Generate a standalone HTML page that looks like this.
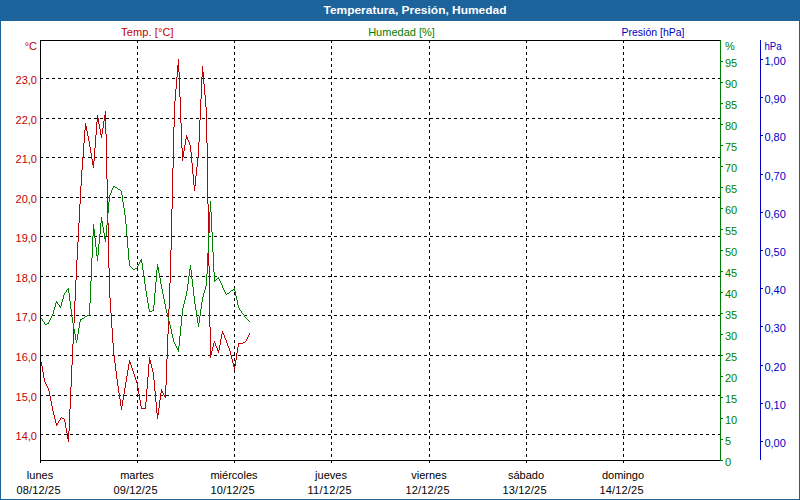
<!DOCTYPE html>
<html><head><meta charset="utf-8"><title>Temperatura, Presión, Humedad</title>
<style>
html,body{margin:0;padding:0;background:#fff;}
body{width:800px;height:500px;overflow:hidden;position:relative;font-family:"Liberation Sans",sans-serif;}
svg{position:absolute;left:0;top:0;display:block;}
text{font-family:"Liberation Sans",sans-serif;font-size:11px;}
</style></head><body>
<svg width="800" height="500" viewBox="0 0 800 500">

<defs><pattern id="dth" width="4" height="4" patternUnits="userSpaceOnUse"><rect width="4" height="4" fill="#1d639b"/><rect x="1" y="1" width="1" height="1" fill="#2065b0"/><rect x="3" y="3" width="1" height="1" fill="#2065b0"/></pattern></defs>
<rect x="0" y="0" width="800" height="500" fill="#1d639b"/>
<rect x="0" y="0" width="800" height="20" fill="url(#dth)" shape-rendering="crispEdges"/>
<rect x="1" y="21" width="798" height="478" fill="#ffffff"/>
<text x="415" y="14" text-anchor="middle" fill="#ffffff" style="font-weight:bold;font-size:11.5px" textLength="183" lengthAdjust="spacingAndGlyphs">Temperatura, Presión, Humedad</text>
<g stroke="#000" stroke-width="1" stroke-dasharray="3 3" shape-rendering="crispEdges" fill="none">
<line x1="40" y1="78.5" x2="720" y2="78.5"/>
<line x1="40" y1="118.5" x2="720" y2="118.5"/>
<line x1="40" y1="157.5" x2="720" y2="157.5"/>
<line x1="40" y1="197.5" x2="720" y2="197.5"/>
<line x1="40" y1="236.5" x2="720" y2="236.5"/>
<line x1="40" y1="276.5" x2="720" y2="276.5"/>
<line x1="40" y1="315.5" x2="720" y2="315.5"/>
<line x1="40" y1="355.5" x2="720" y2="355.5"/>
<line x1="40" y1="395.5" x2="720" y2="395.5"/>
<line x1="40" y1="434.5" x2="720" y2="434.5"/>
<line x1="137.5" y1="40" x2="137.5" y2="460"/>
<line x1="234.5" y1="40" x2="234.5" y2="460"/>
<line x1="331.5" y1="40" x2="331.5" y2="460"/>
<line x1="429.5" y1="40" x2="429.5" y2="460"/>
<line x1="526.5" y1="40" x2="526.5" y2="460"/>
<line x1="623.5" y1="40" x2="623.5" y2="460"/>
</g>
<g shape-rendering="crispEdges" stroke="none">
<path fill="#c00000" d="M41 362h1v4h-1zM42 366h1v6h-1zM43 372h1v6h-1zM44 378h1v4h-1zM45 382h1v2h-1zM46 384h1v2h-1zM47 386h1v2h-1zM48 388h1v3h-1zM49 391h1v5h-1zM50 396h1v5h-1zM51 401h1v5h-1zM52 406h1v5h-1zM53 411h1v4h-1zM54 415h1v4h-1zM55 419h1v4h-1zM56 423h1v3h-1zM57 423h1v2h-1zM58 421h1v2h-1zM59 420h1v1h-1zM60 418h1v2h-1zM61 417h1v1h-1zM62 418h1v1h-1zM63 418h1v1h-1zM64 419h1v3h-1zM65 422h1v6h-1zM66 428h1v5h-1zM67 433h1v6h-1zM68 431h1v11h-1zM69 409h1v22h-1zM70 387h1v22h-1zM71 365h1v22h-1zM72 344h1v21h-1zM73 323h1v21h-1zM74 301h1v22h-1zM75 280h1v21h-1zM76 260h1v20h-1zM77 242h1v18h-1zM78 223h1v19h-1zM79 204h1v19h-1zM80 186h1v18h-1zM81 170h1v16h-1zM82 157h1v13h-1zM83 143h1v14h-1zM84 130h1v13h-1zM85 123h1v7h-1zM86 126h1v5h-1zM87 131h1v5h-1zM88 136h1v5h-1zM89 141h1v6h-1zM90 147h1v6h-1zM91 153h1v6h-1zM92 159h1v6h-1zM93 161h1v7h-1zM94 148h1v13h-1zM95 135h1v13h-1zM96 122h1v13h-1zM97 115h1v7h-1zM98 118h1v6h-1zM99 124h1v5h-1zM100 129h1v6h-1zM101 134h1v4h-1zM102 128h1v6h-1zM103 121h1v7h-1zM104 115h1v6h-1zM105 111h1v23h-1zM106 134h1v45h-1zM107 179h1v44h-1zM108 223h1v45h-1zM109 268h1v30h-1zM110 298h1v15h-1zM111 313h1v15h-1zM112 328h1v15h-1zM113 343h1v12h-1zM114 355h1v8h-1zM115 363h1v8h-1zM116 371h1v8h-1zM117 379h1v7h-1zM118 386h1v7h-1zM119 393h1v6h-1zM120 399h1v7h-1zM121 406h1v4h-1zM122 400h1v6h-1zM123 394h1v6h-1zM124 388h1v6h-1zM125 382h1v6h-1zM126 376h1v6h-1zM127 370h1v6h-1zM128 364h1v6h-1zM129 360h1v4h-1zM130 362h1v3h-1zM131 365h1v3h-1zM132 368h1v3h-1zM133 371h1v3h-1zM134 374h1v3h-1zM135 377h1v3h-1zM136 380h1v3h-1zM137 383h1v5h-1zM138 388h1v6h-1zM139 394h1v6h-1zM140 400h1v6h-1zM141 406h1v3h-1zM142 408h1v1h-1zM143 408h1v1h-1zM144 408h1v1h-1zM145 402h1v7h-1zM146 389h1v13h-1zM147 377h1v12h-1zM148 364h1v13h-1zM149 357h1v7h-1zM150 360h1v4h-1zM151 364h1v4h-1zM152 368h1v4h-1zM153 372h1v8h-1zM154 380h1v11h-1zM155 391h1v11h-1zM156 402h1v11h-1zM157 413h1v6h-1zM158 408h1v7h-1zM159 400h1v8h-1zM160 393h1v7h-1zM161 389h1v4h-1zM162 391h1v2h-1zM163 393h1v2h-1zM164 395h1v2h-1zM165 385h1v13h-1zM166 359h1v26h-1zM167 334h1v25h-1zM168 309h1v25h-1zM169 283h1v26h-1zM170 250h1v33h-1zM171 209h1v41h-1zM172 168h1v41h-1zM173 127h1v41h-1zM174 101h1v26h-1zM175 89h1v12h-1zM176 77h1v12h-1zM177 65h1v12h-1zM178 59h1v13h-1zM179 72h1v25h-1zM180 97h1v26h-1zM181 123h1v25h-1zM182 148h1v13h-1zM183 151h1v6h-1zM184 145h1v6h-1zM185 139h1v6h-1zM186 135h1v4h-1zM187 137h1v3h-1zM188 140h1v2h-1zM189 142h1v3h-1zM190 145h1v7h-1zM191 152h1v11h-1zM192 163h1v11h-1zM193 174h1v11h-1zM194 185h1v6h-1zM195 176h1v10h-1zM196 167h1v9h-1zM197 157h1v10h-1zM198 142h1v15h-1zM199 120h1v22h-1zM200 99h1v21h-1zM201 77h1v22h-1zM202 66h1v11h-1zM203 72h1v12h-1zM204 84h1v11h-1zM205 95h1v12h-1zM206 107h1v36h-1zM207 143h1v61h-1zM208 204h1v62h-1zM209 266h1v61h-1zM210 327h1v31h-1zM211 351h1v4h-1zM212 347h1v4h-1zM213 343h1v4h-1zM214 341h1v2h-1zM215 343h1v3h-1zM216 346h1v2h-1zM217 348h1v3h-1zM218 350h1v3h-1zM219 345h1v5h-1zM220 339h1v6h-1zM221 334h1v5h-1zM222 331h1v3h-1zM223 333h1v2h-1zM224 335h1v3h-1zM225 338h1v2h-1zM226 340h1v3h-1zM227 343h1v3h-1zM228 346h1v2h-1zM229 348h1v3h-1zM230 351h1v4h-1zM231 355h1v4h-1zM232 359h1v4h-1zM233 363h1v4h-1zM234 366h1v4h-1zM235 360h1v6h-1zM236 353h1v7h-1zM237 347h1v6h-1zM238 343h1v4h-1zM239 343h1v1h-1zM240 343h1v1h-1zM241 343h1v1h-1zM242 343h1v1h-1zM243 342h1v1h-1zM244 342h1v1h-1zM245 341h1v1h-1zM246 339h1v2h-1zM247 337h1v2h-1zM248 335h1v2h-1zM249 333h1v2h-1z"/>
<path fill="#008000" d="M41 318h1v1h-1zM42 319h1v2h-1zM43 321h1v1h-1zM44 322h1v2h-1zM45 324h1v1h-1zM46 324h1v1h-1zM47 323h1v1h-1zM48 322h1v2h-1zM49 320h1v2h-1zM50 318h1v2h-1zM51 316h1v2h-1zM52 314h1v2h-1zM53 310h1v4h-1zM54 307h1v3h-1zM55 303h1v4h-1zM56 301h1v2h-1zM57 302h1v2h-1zM58 304h1v1h-1zM59 305h1v2h-1zM60 306h1v2h-1zM61 302h1v4h-1zM62 299h1v3h-1zM63 295h1v4h-1zM64 293h1v2h-1zM65 292h1v1h-1zM66 290h1v2h-1zM67 289h1v1h-1zM68 288h1v5h-1zM69 293h1v8h-1zM70 301h1v8h-1zM71 309h1v8h-1zM72 317h1v6h-1zM73 323h1v6h-1zM74 329h1v5h-1zM75 334h1v6h-1zM76 340h1v3h-1zM77 334h1v6h-1zM78 328h1v6h-1zM79 322h1v6h-1zM80 319h1v3h-1zM81 319h1v1h-1zM82 318h1v1h-1zM83 318h1v1h-1zM84 317h1v1h-1zM85 316h1v1h-1zM86 316h1v1h-1zM87 315h1v1h-1zM88 315h1v1h-1zM89 303h1v12h-1zM90 281h1v22h-1zM91 258h1v23h-1zM92 236h1v22h-1zM93 224h1v12h-1zM94 229h1v9h-1zM95 238h1v9h-1zM96 247h1v9h-1zM97 255h1v6h-1zM98 244h1v11h-1zM99 234h1v10h-1zM100 223h1v11h-1zM101 217h1v6h-1zM102 221h1v6h-1zM103 227h1v6h-1zM104 233h1v6h-1zM105 236h1v6h-1zM106 225h1v11h-1zM107 213h1v12h-1zM108 202h1v11h-1zM109 195h1v7h-1zM110 193h1v2h-1zM111 190h1v3h-1zM112 188h1v2h-1zM113 186h1v2h-1zM114 186h1v1h-1zM115 187h1v1h-1zM116 187h1v1h-1zM117 188h1v1h-1zM118 189h1v1h-1zM119 189h1v1h-1zM120 190h1v1h-1zM121 191h1v4h-1zM122 195h1v7h-1zM123 202h1v6h-1zM124 208h1v7h-1zM125 215h1v9h-1zM126 224h1v12h-1zM127 236h1v12h-1zM128 248h1v12h-1zM129 260h1v6h-1zM130 266h1v1h-1zM131 267h1v1h-1zM132 268h1v1h-1zM133 269h1v1h-1zM134 269h1v1h-1zM135 268h1v1h-1zM136 268h1v1h-1zM137 266h1v2h-1zM138 264h1v2h-1zM139 262h1v2h-1zM140 260h1v2h-1zM141 259h1v4h-1zM142 263h1v7h-1zM143 270h1v7h-1zM144 277h1v7h-1zM145 284h1v7h-1zM146 291h1v6h-1zM147 297h1v6h-1zM148 303h1v6h-1zM149 309h1v3h-1zM150 311h1v1h-1zM151 311h1v1h-1zM152 310h1v1h-1zM153 305h1v6h-1zM154 293h1v12h-1zM155 282h1v11h-1zM156 270h1v12h-1zM157 264h1v6h-1zM158 267h1v6h-1zM159 273h1v5h-1zM160 278h1v6h-1zM161 284h1v5h-1zM162 289h1v5h-1zM163 294h1v5h-1zM164 299h1v5h-1zM165 304h1v5h-1zM166 309h1v4h-1zM167 313h1v4h-1zM168 317h1v4h-1zM169 321h1v4h-1zM170 325h1v4h-1zM171 329h1v5h-1zM172 334h1v4h-1zM173 338h1v4h-1zM174 342h1v2h-1zM175 344h1v2h-1zM176 346h1v2h-1zM177 348h1v2h-1zM178 346h1v6h-1zM179 336h1v10h-1zM180 326h1v10h-1zM181 316h1v10h-1zM182 308h1v8h-1zM183 304h1v4h-1zM184 300h1v4h-1zM185 296h1v4h-1zM186 291h1v5h-1zM187 284h1v7h-1zM188 276h1v8h-1zM189 269h1v7h-1zM190 265h1v5h-1zM191 270h1v9h-1zM192 279h1v8h-1zM193 287h1v9h-1zM194 296h1v8h-1zM195 304h1v6h-1zM196 310h1v7h-1zM197 317h1v6h-1zM198 323h1v4h-1zM199 316h1v7h-1zM200 309h1v7h-1zM201 302h1v7h-1zM202 297h1v5h-1zM203 293h1v4h-1zM204 290h1v3h-1zM205 286h1v4h-1zM206 274h1v12h-1zM207 253h1v21h-1zM208 233h1v20h-1zM209 212h1v21h-1zM210 201h1v11h-1zM211 212h1v20h-1zM212 232h1v20h-1zM213 252h1v20h-1zM214 272h1v10h-1zM215 280h1v1h-1zM216 279h1v1h-1zM217 278h1v1h-1zM218 277h1v2h-1zM219 279h1v2h-1zM220 281h1v2h-1zM221 283h1v2h-1zM222 285h1v3h-1zM223 288h1v2h-1zM224 290h1v2h-1zM225 292h1v2h-1zM226 294h1v1h-1zM227 293h1v1h-1zM228 293h1v1h-1zM229 292h1v1h-1zM230 291h1v1h-1zM231 290h1v1h-1zM232 290h1v1h-1zM233 289h1v1h-1zM234 288h1v3h-1zM235 291h1v5h-1zM236 296h1v4h-1zM237 300h1v5h-1zM238 305h1v3h-1zM239 308h1v2h-1zM240 310h1v1h-1zM241 311h1v2h-1zM242 313h1v1h-1zM243 314h1v1h-1zM244 315h1v2h-1zM245 317h1v1h-1zM246 318h1v1h-1zM247 319h1v1h-1zM248 320h1v1h-1zM249 321h1v1h-1z"/>
</g>
<g shape-rendering="crispEdges" stroke-width="1" fill="none">
<path d="M40.5 460.5 V40.5 H720.5" stroke="#000"/>
<path d="M40 460.5 H721" stroke="#000"/>
<line x1="40.5" y1="460" x2="40.5" y2="463" stroke="#000"/>
<line x1="137.5" y1="460" x2="137.5" y2="463" stroke="#000"/>
<line x1="234.5" y1="460" x2="234.5" y2="463" stroke="#000"/>
<line x1="331.5" y1="460" x2="331.5" y2="463" stroke="#000"/>
<line x1="429.5" y1="460" x2="429.5" y2="463" stroke="#000"/>
<line x1="526.5" y1="460" x2="526.5" y2="463" stroke="#000"/>
<line x1="623.5" y1="460" x2="623.5" y2="463" stroke="#000"/>
<line x1="720.5" y1="40" x2="720.5" y2="461" stroke="#008000"/>
<line x1="721" y1="460.5" x2="723" y2="460.5" stroke="#008000"/>
<line x1="721" y1="439.5" x2="723" y2="439.5" stroke="#008000"/>
<line x1="721" y1="418.5" x2="723" y2="418.5" stroke="#008000"/>
<line x1="721" y1="397.5" x2="723" y2="397.5" stroke="#008000"/>
<line x1="721" y1="376.5" x2="723" y2="376.5" stroke="#008000"/>
<line x1="721" y1="355.5" x2="723" y2="355.5" stroke="#008000"/>
<line x1="721" y1="334.5" x2="723" y2="334.5" stroke="#008000"/>
<line x1="721" y1="313.5" x2="723" y2="313.5" stroke="#008000"/>
<line x1="721" y1="292.5" x2="723" y2="292.5" stroke="#008000"/>
<line x1="721" y1="271.5" x2="723" y2="271.5" stroke="#008000"/>
<line x1="721" y1="250.5" x2="723" y2="250.5" stroke="#008000"/>
<line x1="721" y1="229.5" x2="723" y2="229.5" stroke="#008000"/>
<line x1="721" y1="208.5" x2="723" y2="208.5" stroke="#008000"/>
<line x1="721" y1="187.5" x2="723" y2="187.5" stroke="#008000"/>
<line x1="721" y1="166.5" x2="723" y2="166.5" stroke="#008000"/>
<line x1="721" y1="145.5" x2="723" y2="145.5" stroke="#008000"/>
<line x1="721" y1="124.5" x2="723" y2="124.5" stroke="#008000"/>
<line x1="721" y1="103.5" x2="723" y2="103.5" stroke="#008000"/>
<line x1="721" y1="82.5" x2="723" y2="82.5" stroke="#008000"/>
<line x1="721" y1="61.5" x2="723" y2="61.5" stroke="#008000"/>
<line x1="760.5" y1="40" x2="760.5" y2="460" stroke="#0000c0"/>
<line x1="761" y1="441.5" x2="763" y2="441.5" stroke="#0000c0"/>
<line x1="761" y1="403.5" x2="763" y2="403.5" stroke="#0000c0"/>
<line x1="761" y1="365.5" x2="763" y2="365.5" stroke="#0000c0"/>
<line x1="761" y1="326.5" x2="763" y2="326.5" stroke="#0000c0"/>
<line x1="761" y1="288.5" x2="763" y2="288.5" stroke="#0000c0"/>
<line x1="761" y1="250.5" x2="763" y2="250.5" stroke="#0000c0"/>
<line x1="761" y1="212.5" x2="763" y2="212.5" stroke="#0000c0"/>
<line x1="761" y1="174.5" x2="763" y2="174.5" stroke="#0000c0"/>
<line x1="761" y1="135.5" x2="763" y2="135.5" stroke="#0000c0"/>
<line x1="761" y1="97.5" x2="763" y2="97.5" stroke="#0000c0"/>
<line x1="761" y1="59.5" x2="763" y2="59.5" stroke="#0000c0"/>
</g>
<g fill="#c00000">
<text x="147.3" y="36" text-anchor="middle" textLength="52.5" lengthAdjust="spacing">Temp. [°C]</text>
<text x="37" y="50" text-anchor="end">°C</text>
<text x="37" y="84" text-anchor="end">23,0</text>
<text x="37" y="124" text-anchor="end">22,0</text>
<text x="37" y="163" text-anchor="end">21,0</text>
<text x="37" y="203" text-anchor="end">20,0</text>
<text x="37" y="242" text-anchor="end">19,0</text>
<text x="37" y="282" text-anchor="end">18,0</text>
<text x="37" y="321" text-anchor="end">17,0</text>
<text x="37" y="361" text-anchor="end">16,0</text>
<text x="37" y="401" text-anchor="end">15,0</text>
<text x="37" y="440" text-anchor="end">14,0</text>
</g>
<g fill="#008000">
<text x="401.5" y="36" text-anchor="middle">Humedad [%]</text>
<text x="725" y="50">%</text>
<text x="725" y="466">0</text>
<text x="725" y="445">5</text>
<text x="725" y="424">10</text>
<text x="725" y="403">15</text>
<text x="725" y="382">20</text>
<text x="725" y="361">25</text>
<text x="725" y="340">30</text>
<text x="725" y="319">35</text>
<text x="725" y="298">40</text>
<text x="725" y="277">45</text>
<text x="725" y="256">50</text>
<text x="725" y="235">55</text>
<text x="725" y="214">60</text>
<text x="725" y="193">65</text>
<text x="725" y="172">70</text>
<text x="725" y="151">75</text>
<text x="725" y="130">80</text>
<text x="725" y="109">85</text>
<text x="725" y="88">90</text>
<text x="725" y="67">95</text>
</g>
<g fill="#0000c0">
<text x="653" y="36" text-anchor="middle" textLength="63" lengthAdjust="spacingAndGlyphs">Presión [hPa]</text>
<text x="764.5" y="50" textLength="17.2" lengthAdjust="spacingAndGlyphs">hPa</text>
<text x="764.4" y="447">0,00</text>
<text x="764.4" y="409">0,10</text>
<text x="764.4" y="371">0,20</text>
<text x="764.4" y="332">0,30</text>
<text x="764.4" y="294">0,40</text>
<text x="764.4" y="256">0,50</text>
<text x="764.4" y="218">0,60</text>
<text x="764.4" y="180">0,70</text>
<text x="764.4" y="141">0,80</text>
<text x="764.4" y="103">0,90</text>
<text x="764.4" y="65">1,00</text>
</g>
<g fill="#000">
<text x="40" y="478.5" text-anchor="middle">lunes</text>
<text x="38.5" y="493.7" text-anchor="middle" textLength="44" lengthAdjust="spacing">08/12/25</text>
<text x="137" y="478.5" text-anchor="middle">martes</text>
<text x="135.5" y="493.7" text-anchor="middle" textLength="44" lengthAdjust="spacing">09/12/25</text>
<text x="234" y="478.5" text-anchor="middle">miércoles</text>
<text x="232.5" y="493.7" text-anchor="middle" textLength="44" lengthAdjust="spacing">10/12/25</text>
<text x="331" y="478.5" text-anchor="middle">jueves</text>
<text x="329.5" y="493.7" text-anchor="middle" textLength="44" lengthAdjust="spacing">11/12/25</text>
<text x="429" y="478.5" text-anchor="middle">viernes</text>
<text x="427.5" y="493.7" text-anchor="middle" textLength="44" lengthAdjust="spacing">12/12/25</text>
<text x="526" y="478.5" text-anchor="middle">sábado</text>
<text x="524.5" y="493.7" text-anchor="middle" textLength="44" lengthAdjust="spacing">13/12/25</text>
<text x="623" y="478.5" text-anchor="middle">domingo</text>
<text x="621.5" y="493.7" text-anchor="middle" textLength="44" lengthAdjust="spacing">14/12/25</text>
</g>
</svg></body></html>
